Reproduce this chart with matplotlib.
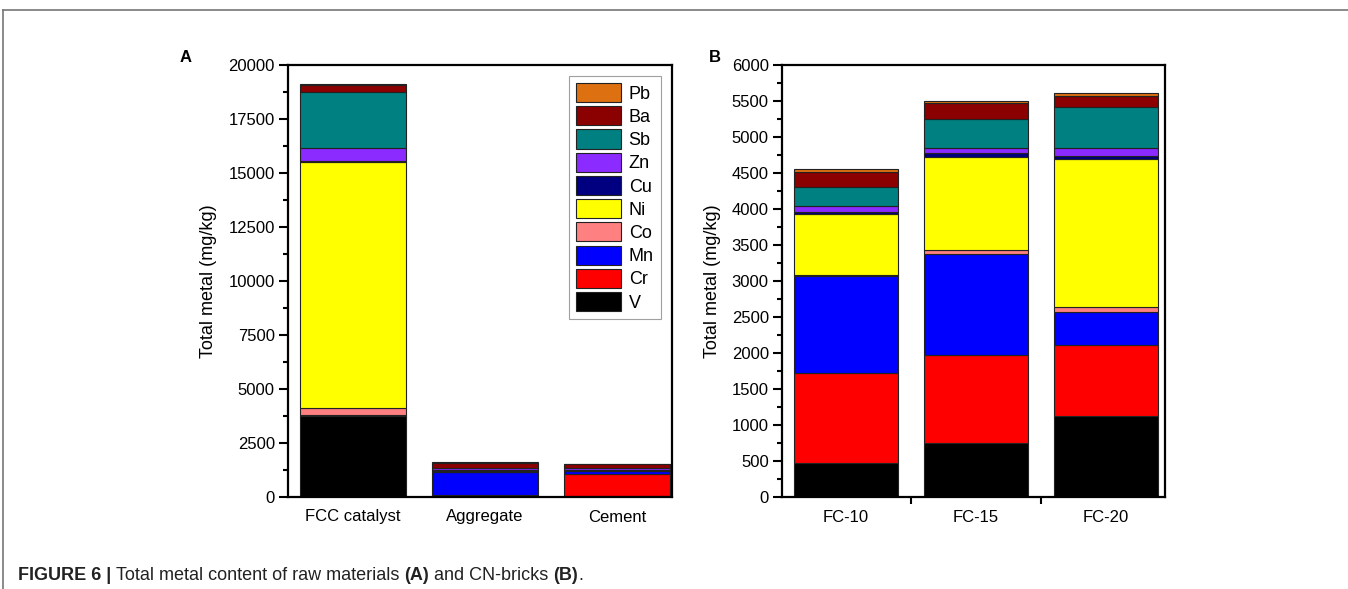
import numpy as np
import matplotlib
matplotlib.use("Agg")
import matplotlib.pyplot as plt
from matplotlib.patches import Patch
from matplotlib.lines import Line2D
from matplotlib.ticker import MultipleLocator, FixedLocator

plt.rcParams['font.family'] = ['Liberation Sans', 'DejaVu Sans']

# metals, bottom to top of each stack (mg/kg)
metals = ['V', 'Cr', 'Mn', 'Co', 'Ni', 'Cu', 'Zn', 'Sb', 'Ba', 'Pb']
colors = ['#000000', '#FF0000', '#0000FF', '#FF8080', '#FFFF00',
          '#000080', '#8B2BFF', '#008080', '#8B0000', '#DD7011']

raw_labels = ['FCC catalyst', 'Aggregate', 'Cement']
fcc = [3750, 20, 30, 330, 11400, 30, 600, 2600, 330, 20]
aggregate = [50, 50, 1060, 10, 20, 50, 90, 20, 240, 40]
cement = [30, 1020, 150, 10, 20, 30, 80, 20, 150, 20]

brick_labels = ['FC-10', 'FC-15', 'FC-20']
fc10 = [478, 1250, 1342, 20, 836, 38, 78, 264, 214, 31]
fc15 = [746, 1232, 1402, 50, 1297, 47, 79, 393, 231, 19]
fc20 = [1120, 987, 468, 64, 2061, 36, 111, 565, 157, 48]

W, H = 1348, 589
fig = plt.figure(figsize=(W / 100, H / 100), dpi=100)


def px_axes(l, t, r, b):
    return fig.add_axes([l / W, (H - b) / H, (r - l) / W, (b - t) / H])


def stack(ax, samples, labels):
    data = np.array(samples, dtype=float).T  # metals x samples
    x = np.arange(len(labels))
    bottom = np.zeros(len(labels))
    for vals, c in zip(data, colors):
        ax.bar(x, vals, 0.8, bottom=bottom, color=c, edgecolor='#222222',
               linewidth=0.8, zorder=2)
        bottom += vals
    ax.set_xticks(x)
    ax.set_xticklabels(labels, fontsize=12)
    for s in ax.spines.values():
        s.set_linewidth(1.6)
    ax.tick_params(axis='y', which='major', direction='out', length=6.5,
                   width=1.5, labelsize=12, pad=3)
    ax.tick_params(axis='y', which='minor', direction='out', length=3.5, width=1.5)
    ax.set_ylabel('Total metal (mg/kg)', fontsize=13, labelpad=8)


axA = px_axes(288, 65, 672, 497)
stack(axA, [fcc, aggregate, cement], raw_labels)
axA.set_xlim(-0.492, 2.417)
axA.set_ylim(0, 20000)
axA.yaxis.set_major_locator(MultipleLocator(2500))
axA.yaxis.set_minor_locator(MultipleLocator(1250))
axA.tick_params(axis='x', length=0, pad=9)

handles = [Patch(facecolor=c, edgecolor='#222222', linewidth=0.8)
           for c in colors][::-1]
leg = axA.legend(handles, metals[::-1], loc='upper left',
                 bbox_to_anchor=(0.732, 0.975), fontsize=13, frameon=True,
                 fancybox=False, edgecolor='#888888', handlelength=2.45,
                 handleheight=1.25, labelspacing=0.2, handletextpad=0.45,
                 borderpad=0.4, borderaxespad=0)
leg.get_frame().set_linewidth(0.8)

axB = px_axes(782, 65, 1165, 497)
stack(axB, [fc10, fc15, fc20], brick_labels)
axB.set_xlim(-0.492, 2.454)
axB.set_ylim(0, 6000)
axB.yaxis.set_major_locator(MultipleLocator(500))
axB.yaxis.set_minor_locator(MultipleLocator(250))
axB.xaxis.set_minor_locator(FixedLocator([-0.5, 0.5, 1.5]))
axB.tick_params(axis='x', which='major', length=0, pad=9)
axB.tick_params(axis='x', which='minor', direction='out', length=5, width=1.5)

fig.text(180 / W, 1 - 58 / H, 'A', fontsize=12, fontweight='bold', va='center')
fig.text(709 / W, 1 - 58 / H, 'B', fontsize=12, fontweight='bold', va='center')

# page frame lines
fig.add_artist(Line2D([3 / W, 1], [1 - 10 / H, 1 - 10 / H], color='#777777', lw=1.2))
fig.add_artist(Line2D([3 / W, 3 / W], [0, 1 - 10 / H], color='#777777', lw=1.2))

# caption
cap_font = ['Liberation Sans Narrow', 'Liberation Sans', 'DejaVu Sans']
parts = [('FIGURE 6 | ', 'bold'), ('Total metal content of raw materials ', 'normal'),
         ('(A)', 'bold'), (' and CN-bricks ', 'normal'), ('(B)', 'bold'), ('.', 'normal')]
renderer = fig.canvas.get_renderer()
xpos = 18 / W
for txt, wt in parts:
    t = fig.text(xpos, 1 - 575 / H, txt, fontsize=13, fontweight=wt,
                 family=cap_font, va='center', color='#222222')
    bb = t.get_window_extent(renderer=renderer)
    xpos += bb.width / W

fig.savefig('out.png', dpi=100)
